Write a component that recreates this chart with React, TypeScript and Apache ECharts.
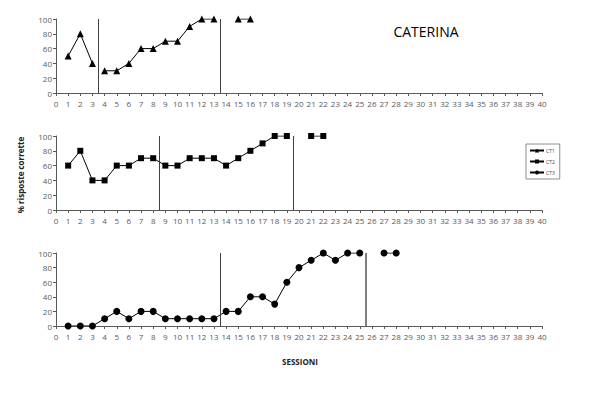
import React, { useEffect, useRef } from "react";
import * as echarts from "echarts";

// Data: each series split into connected segments (start session + values)
const ct1Segments = [
  { start: 1, values: [50, 80, 40] },
  { start: 4, values: [30, 30, 40, 60, 60, 70, 70, 90, 100, 100] },
  { start: 15, values: [100, 100] },
];
const ct2Segments = [
  { start: 1, values: [60, 80, 40, 40, 60, 60, 70, 70, 60, 60, 70, 70, 70, 60, 70, 80, 90, 100, 100] },
  { start: 21, values: [100, 100] },
];
const ct3Segments = [
  { start: 1, values: [0, 0, 0, 10, 20, 10, 20, 20, 10, 10, 10, 10, 10, 20, 20, 40, 40, 30, 60, 80, 90, 100, 90, 100, 100] },
  { start: 27, values: [100, 100] },
];
const ct1PhaseLines = [3.5, 13.5];
const ct2PhaseLines = [8.5, 19.5];
const ct3PhaseLines = [13.5, 25.5];
const seriesNames = ["CT1", "CT2", "CT3"];
const xMin = 0;
const xMax = 40;
const yMin = 0;
const yMax = 100;

type Seg = { start: number; values: number[] };

function buildData(segs: Seg[]) {
  const out: any[] = [];
  segs.forEach((s, si) => {
    if (si > 0) out.push([s.start - 0.5, "-"]);
    s.values.forEach((v, i) => out.push([s.start + i, v]));
  });
  return out;
}

const FONT = "'Open Sans', 'Liberation Sans', sans-serif";

export default function App() {
  const ref = useRef<HTMLDivElement>(null);
  useEffect(() => {
    if (!ref.current) return;
    const chart = echarts.init(ref.current, undefined, { renderer: "svg" });
    const tops = [19, 136, 253];
    const heights = [74, 74, 73];
    const grids = tops.map((t, i) => ({ left: 56, right: 58, top: t, height: heights[i] }));
    const axisLine = { lineStyle: { color: "#595959", width: 1 } };
    const axisLabel = { color: "#595959", fontSize: 8, fontFamily: FONT, margin: 4 };
    const xAxes = grids.map((_, i) => ({
      type: "value",
      gridIndex: i,
      min: xMin,
      max: xMax,
      interval: 1,
      axisLine: { ...axisLine, onZero: false },
      axisTick: { show: true, length: 3, lineStyle: { color: "#595959" } },
      axisLabel: { ...axisLabel, margin: 6 },
      splitLine: { show: false },
    }));
    const yAxes = grids.map((_, i) => ({
      type: "value",
      gridIndex: i,
      min: yMin,
      max: yMax,
      interval: 20,
      axisLine: { show: true, ...axisLine },
      axisTick: { show: true, length: 3, lineStyle: { color: "#595959" } },
      axisLabel,
      splitLine: { show: false },
    }));
    const segsAll = [ct1Segments, ct2Segments, ct3Segments];
    const phases = [ct1PhaseLines, ct2PhaseLines, ct3PhaseLines];
    const symbols = ["triangle", "rect", "circle"];
    const sizes = [7, 6, 7];
    const series = segsAll.map((segs, i) => ({
      name: seriesNames[i],
      type: "line",
      xAxisIndex: i,
      yAxisIndex: i,
      data: buildData(segs),
      symbol: symbols[i],
      symbolSize: sizes[i],
      showAllSymbol: true,
      connectNulls: false,
      lineStyle: { color: "#000", width: 1 },
      itemStyle: { color: "#000" },
      markLine: {
        silent: true,
        symbol: "none",
        label: { show: false },
        lineStyle: { color: "#404040", width: 1, type: "solid" },
        data: phases[i].map((x, k) => [
          { coord: [x, yMin] },
          { coord: [x, yMax], lineStyle: { width: i === 2 && k === 1 ? 2 : 1, color: i === 2 && k === 1 ? "#7f7f7f" : "#404040" } },
        ]),
      },
    }));
    chart.setOption({
      animation: false,
      backgroundColor: "#fff",
      grid: grids,
      xAxis: xAxes,
      yAxis: yAxes,
      series,
      legend: {
        orient: "vertical",
        left: 526,
        top: 144,
        padding: [4, 5, 4, 3],
        itemGap: 6,
        itemWidth: 14,
        itemHeight: 5,
        borderColor: "#8c8c8c",
        borderWidth: 1,
        textStyle: { fontSize: 5, color: "#404040", fontFamily: FONT, padding: [0, 0, 0, -3] },
        data: seriesNames,
      },
      title: [
        {
          text: "CATERINA",
          left: 421,
          top: 19,
          textAlign: "center",
          textStyle: { fontSize: 14, fontWeight: "normal", color: "#000", fontFamily: FONT },
        },
      ],
      graphic: [
        {
          type: "text",
          x: 20,
          y: 175,
          rotation: Math.PI / 2,
          style: {
            text: "% risposte corrette",
            fill: "#222",
            font: `bold 8px ${FONT}`,
            align: "center",
            verticalAlign: "middle",
          },
        },
        {
          type: "text",
          x: 300,
          y: 361,
          style: {
            text: "SESSIONI",
            font: `bold 8px ${FONT}`,
            fill: "#222",
            align: "center",
            verticalAlign: "middle",
          },
        },
      ],
    });
    return () => chart.dispose();
  }, []);
  return <div ref={ref} style={{ width: 600, height: 394, position: "absolute", left: 0, top: 0 }} />;
}
